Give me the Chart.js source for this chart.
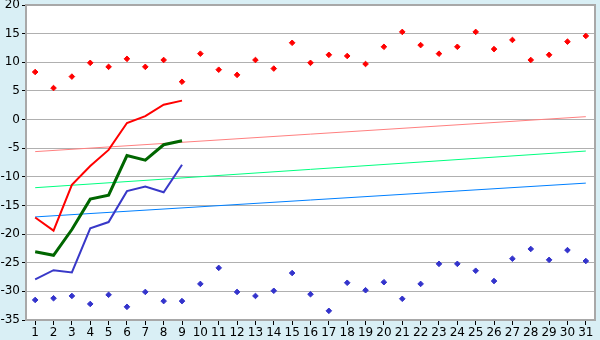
<!DOCTYPE html>
<html>
<head>
<meta charset="utf-8">
<script src="https://cdn.jsdelivr.net/npm/chart.js@4/dist/chart.umd.min.js"></script>
<style>
  html, body { margin: 0; padding: 0; background: #d9eff5; }
  #wrap { width: 600px; height: 340px; }
</style>
</head>
<body>
<div id="wrap"><canvas id="c" width="600" height="340"></canvas></div>
<script>
const days = ["1","2","3","4","5","6","7","8","9","10","11","12","13","14","15","16","17","18","19","20","21","22","23","24","25","26","27","28","29","30","31"];

const highPoints = [8.3, 5.5, 7.5, 9.9, 9.2, 10.6, 9.2, 10.4, 6.6, 11.5, 8.7, 7.8, 10.4, 8.9, 13.4, 9.9, 11.3, 11.1, 9.7, 12.7, 15.3, 13.0, 11.5, 12.7, 15.3, 12.3, 13.9, 10.4, 11.3, 13.6, 14.6];
const lowPoints = [-31.5, -31.2, -30.8, -32.2, -30.6, -32.7, -30.1, -31.7, -31.7, -28.7, -25.9, -30.1, -30.8, -29.9, -26.8, -30.5, -33.4, -28.5, -29.8, -28.4, -31.3, -28.7, -25.2, -25.2, -26.4, -28.2, -24.3, -22.6, -24.5, -22.8, -24.7];

const redLine = [-17.1, -19.4, -11.4, -8.1, -5.3, -0.6, 0.6, 2.6, 3.3];
const greenLine = [-23.1, -23.7, -19.2, -13.9, -13.2, -6.3, -7.1, -4.4, -3.7];
const blueLine = [-27.9, -26.3, -26.7, -19.0, -17.9, -12.5, -11.7, -12.7, -7.9];

const trendLabels = ["1", "31"];
const redTrend = [-5.6, 0.5];
const greenTrend = [-11.9, -5.5];
const blueTrend = [-17.0, -11.1];

const yTicks = { min: -35, max: 20, step: 5 };

function pairs(labels, vals) { return labels.map((l, i) => ({ x: l, y: vals[i] })); }

const framePlugin = {
  id: 'frame',
  beforeDraw(chart) {
    const { ctx, chartArea: a } = chart;
    ctx.save();
    ctx.fillStyle = '#d9eff5';
    ctx.fillRect(0, 0, chart.width, chart.height);
    ctx.fillStyle = '#ffffff';
    ctx.fillRect(a.left, a.top, a.right - a.left, a.bottom - a.top);
    ctx.restore();
  },
  afterDraw(chart) {
    const { ctx, chartArea: a } = chart;
    ctx.save();
    ctx.strokeStyle = '#a8a8a8';
    ctx.lineWidth = 2;
    ctx.strokeRect(a.left, a.top, a.right - a.left, a.bottom - a.top);
    ctx.restore();
  }
};

const fontSpec = { family: 'DejaVu Sans', size: 12 };

new Chart(document.getElementById('c'), {
  type: 'line',
  data: {
    labels: days,
    datasets: [
      { data: pairs(trendLabels, redTrend), borderColor: '#ff8080', borderWidth: 1, pointRadius: 0, order: 3 },
      { data: pairs(trendLabels, greenTrend), borderColor: '#00ff80', borderWidth: 1, pointRadius: 0, order: 3 },
      { data: pairs(trendLabels, blueTrend), borderColor: '#0080ff', borderWidth: 1, pointRadius: 0, order: 3 },
      { data: redLine, borderColor: '#ff0000', borderWidth: 2, pointRadius: 0, order: 2 },
      { data: greenLine, borderColor: '#006600', borderWidth: 3, pointRadius: 0, order: 2 },
      { data: blueLine, borderColor: '#3838c8', borderWidth: 2, pointRadius: 0, order: 2 },
      { data: highPoints, showLine: false, pointStyle: 'rectRot', pointRadius: 2.8, pointBackgroundColor: '#ff0000', pointBorderColor: '#ff0000', pointBorderWidth: 1, order: 1 },
      { data: lowPoints, showLine: false, pointStyle: 'rectRot', pointRadius: 2.8, pointBackgroundColor: '#3333cc', pointBorderColor: '#3333cc', pointBorderWidth: 1, order: 1 }
    ]
  },
  options: {
    responsive: false,
    animation: false,
    events: [],
    layout: { padding: { left: 0, right: 5, top: 5, bottom: 0 } },
    plugins: { legend: { display: false }, tooltip: { enabled: false } },
    elements: { line: { tension: 0 } },
    scales: {
      x: {
        type: 'category',
        offset: true,
        grid: { display: true, drawOnChartArea: false, drawTicks: true, offset: false, tickLength: 5, tickColor: '#000000', tickWidth: 1 },
        border: { display: true, color: '#a8a8a8', width: 2 },
        ticks: { color: '#000000', font: fontSpec, padding: 1, maxRotation: 0, autoSkip: false },
        afterFit(s) { s.height = 20; s.paddingLeft = 0; s.paddingRight = 0; }
      },
      y: {
        min: yTicks.min, max: yTicks.max,
        grid: { color: '#b0b0b0', lineWidth: 1, tickLength: 4, tickColor: '#000000' },
        border: { display: true, color: '#a8a8a8', width: 2 },
        ticks: { stepSize: yTicks.step, color: '#000000', font: fontSpec, padding: 2 },
        afterFit(s) { s.width = 26; s.paddingTop = 0; s.paddingBottom = 0; }
      }
    }
  },
  plugins: [framePlugin]
});
</script>
</body>
</html>
